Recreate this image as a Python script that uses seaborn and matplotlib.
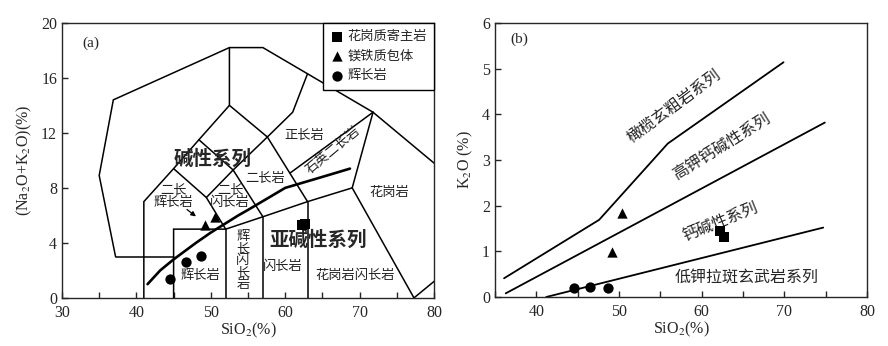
import numpy as np
import pandas as pd
import matplotlib
matplotlib.use('Agg')
import matplotlib.pyplot as plt
import seaborn as sns
from matplotlib.ticker import MultipleLocator

# ---- datos de muestras ----
# (a) TAS
tas_types = ['花岗质寄主岩', '花岗质寄主岩', '镁铁质包体', '镁铁质包体', '辉长岩', '辉长岩', '辉长岩']
tas_sio2 = [62.2, 62.6, 49.2, 50.6, 44.5, 46.6, 48.7]
tas_alk = [5.3, 5.35, 5.3, 5.85, 1.4, 2.6, 3.05]

# (b) SiO2-K2O
k_types = ['花岗质寄主岩', '花岗质寄主岩', '镁铁质包体', '镁铁质包体', '辉长岩', '辉长岩', '辉长岩']
k_sio2 = [62.2, 62.7, 50.4, 49.1, 44.5, 46.5, 48.7]
k_k2o = [1.45, 1.31, 1.85, 0.99, 0.20, 0.23, 0.20]

# ---- limites de campos (a) ----
tas_fields = [
    [(37.2, 3), (35, 8.9), (36.9, 14.4), (52.5, 18.2), (57, 18.2), (71.8, 13.5), (80, 9.8)],
    [(37.2, 3), (45, 3)],
    [(41, 0), (41, 7), (45, 9.4), (48.4, 11.5), (52.5, 14), (52.5, 18.2)],
    [(52.5, 14), (57.6, 11.7), (61, 13.5), (63, 16.3)],
    [(45, 9.4), (49.4, 7.3), (52, 5)],
    [(48.4, 11.5), (53, 9.3), (57, 5.9)],
    [(49.4, 7.3), (53, 9.3), (57.6, 11.7)],
    [(57.6, 11.7), (63, 7)],
    [(45, 0), (45, 5), (52, 5), (57, 5.9), (63, 7), (69, 8), (77.3, 0)],
    [(52, 0), (52, 5)],
    [(57, 0), (57, 5.9)],
    [(63, 0), (63, 7)],
    [(60.7, 9.1), (71.8, 13.5)],
    [(69, 8), (71.8, 13.5)],
    [(77.3, 0), (80, 1.2)],
]
# Irvine & Baragar (1971)
ib_sio2 = [41.5, 43.2, 45, 48, 50, 53.7, 55, 60, 65, 68.7]
ib_alk = [1.0, 2.0, 2.8, 4.0, 4.75, 6.0, 6.4, 8.0, 8.8, 9.4]

# ---- lineas (b) Peccerillo & Taylor ----
k_lines = [
    [(36.1, 0.41), (47.6, 1.69), (55.9, 3.36), (69.9, 5.14)],
    [(36.3, 0.08), (74.9, 3.82)],
    [(41.2, 0.0), (74.7, 1.52)],
]

markers = {'花岗质寄主岩': 's', '镁铁质包体': '^', '辉长岩': 'o'}
CJK = ['Noto Sans CJK SC', 'DejaVu Sans']

sns.set_style('ticks')
plt.rcParams['font.family'] = ['Liberation Serif', 'Noto Sans CJK SC']
plt.rcParams['mathtext.fontset'] = 'stix'
plt.rcParams['xtick.direction'] = 'in'
plt.rcParams['ytick.direction'] = 'in'
plt.rcParams['axes.linewidth'] = 1.0

fig = plt.figure(figsize=(8.88, 3.46), dpi=100)
ax1 = fig.add_axes([0.0698, 0.139, 0.419, 0.795])
ax2 = fig.add_axes([0.5574, 0.1416, 0.419, 0.792])

# ---------- (a) ----------
for seg in tas_fields:
    xs, ys = zip(*seg)
    ax1.plot(xs, ys, color='black', lw=1.1, solid_joinstyle='miter')
ax1.plot(ib_sio2, ib_alk, color='black', lw=1.9)

df_a = pd.DataFrame({'SiO2': tas_sio2, 'alk': tas_alk, 'tipo': tas_types})
for name, m in markers.items():
    sub = df_a[df_a['tipo'] == name]
    sns.scatterplot(data=sub, x='SiO2', y='alk', marker=m, color='black',
                    s=55, edgecolor='black', linewidth=0, label=name, ax=ax1, zorder=5)

leg = ax1.legend(loc='upper right', borderaxespad=0, fancybox=False, edgecolor='black',
                 prop={'family': CJK, 'size': 9.5}, handletextpad=0.3, labelspacing=0.5,
                 borderpad=0.55, handlelength=1.0, framealpha=1)
leg.get_frame().set_linewidth(1.0)

ax1.set_xlim(30, 80)
ax1.set_ylim(0, 20)
ax1.xaxis.set_major_locator(MultipleLocator(10))
ax1.xaxis.set_minor_locator(MultipleLocator(5))
ax1.yaxis.set_major_locator(MultipleLocator(4))
ax1.tick_params(which='both', length=4, width=1, labelsize=11.5)
ax1.tick_params(axis='x', pad=5)
ax1.set_xlabel('SiO$_2$(%)', fontsize=11.5, labelpad=0)
ax1.set_ylabel('(Na$_2$O+K$_2$O)(%)', fontsize=11.5, labelpad=5)

ax1.text(33.9, 18.5, '(a)', fontsize=11, ha='center', va='center')
ax1.text(50.3, 10.1, '碱性系列', family=CJK, fontsize=14, fontweight='bold', ha='center', va='center')
ax1.text(64.4, 4.2, '亚碱性系列', family=CJK, fontsize=14, fontweight='bold', ha='center', va='center')
small = dict(family=CJK, fontsize=9.5, ha='center', va='center', color='#222222')
ax1.text(62.6, 11.8, '正长岩', **small)
ax1.text(66.5, 10.75, '石英二长岩', rotation=40, rotation_mode='anchor', **small)
ax1.text(57.3, 8.7, '二长岩', **small)
ax1.text(45.0, 7.4, '二长\n辉长岩', linespacing=1.0, **small)
ax1.text(52.6, 7.4, '二长\n闪长岩', linespacing=1.0, **small)
ax1.text(74.0, 7.7, '花岗岩', **small)
ax1.text(48.6, 1.65, '辉长岩', **small)
ax1.text(54.3, 2.7, '辉\n长\n闪\n长\n岩', linespacing=0.9, **small)
ax1.text(59.7, 2.25, '闪长岩', **small)
ax1.text(69.4, 1.6, '花岗岩闪长岩', **small)
ax1.annotate('', xy=(48.3, 5.8), xytext=(46.5, 6.55),
             arrowprops=dict(arrowstyle='-|>', color='black', lw=0.9, mutation_scale=7))

# ---------- (b) ----------
for seg in k_lines:
    xs, ys = zip(*seg)
    ax2.plot(xs, ys, color='black', lw=1.3)

df_b = pd.DataFrame({'SiO2': k_sio2, 'K2O': k_k2o, 'tipo': k_types})
for name, m in markers.items():
    sub = df_b[df_b['tipo'] == name]
    sns.scatterplot(data=sub, x='SiO2', y='K2O', marker=m, color='black',
                    s=55, edgecolor='black', linewidth=0, legend=False, ax=ax2, zorder=5)

ax2.set_xlim(35, 80)
ax2.set_ylim(0, 6)
ax2.xaxis.set_major_locator(MultipleLocator(10))
ax2.xaxis.set_minor_locator(MultipleLocator(5))
ax2.yaxis.set_major_locator(MultipleLocator(1))
ax2.tick_params(which='both', length=4, width=1, labelsize=11.5)
ax2.tick_params(axis='x', pad=5)
ax2.set_xlabel('SiO$_2$(%)', fontsize=11.5, labelpad=0)
ax2.set_ylabel('K$_2$O (%)', fontsize=11.5, labelpad=5)

ax2.text(37.9, 5.64, '(b)', fontsize=11, ha='center', va='center')
big = dict(family=CJK, fontsize=11.5, ha='center', va='center', rotation_mode='anchor')
ax2.text(56.7, 4.17, '橄榄玄粗岩系列', rotation=36.5, **big)
ax2.text(62.4, 3.29, '高钾钙碱性系列', rotation=32, **big)
ax2.text(62.2, 1.65, '钙碱性系列', rotation=22, **big)
ax2.text(65.4, 0.41, '低钾拉斑玄武岩系列', **big)

fig.savefig('out.png', dpi=100)
